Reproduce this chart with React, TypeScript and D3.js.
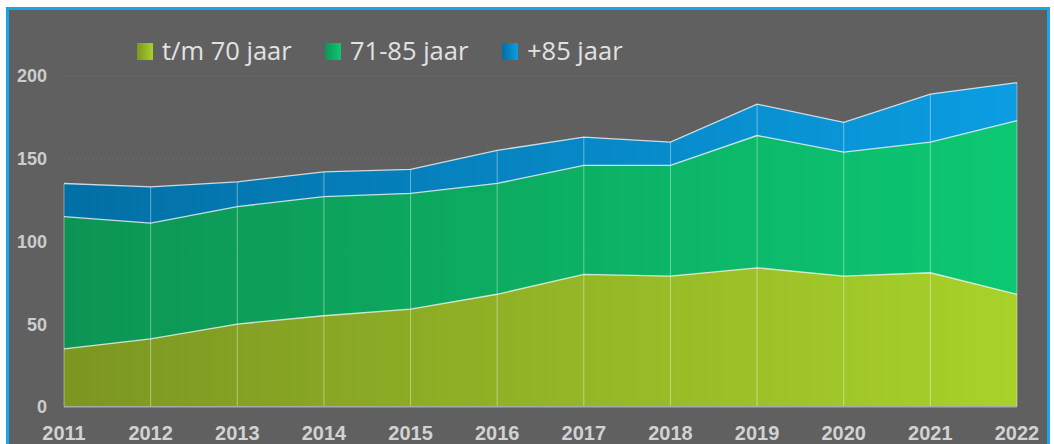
import React from "react";
import * as d3 from "d3";

const years = [2011, 2012, 2013, 2014, 2015, 2016, 2017, 2018, 2019, 2020, 2021, 2022];
const tot70 = [35, 41, 50, 55, 59, 68, 80, 79, 84, 79, 81, 68];
const van71tot85 = [80, 70, 71, 72, 70, 67, 66, 67, 80, 75, 79, 105];
const boven85 = [20, 22, 15, 15, 14.5, 20, 17, 14, 19, 18, 29, 23];
const seriesNames = ["t/m 70 jaar", "71-85 jaar", "+85 jaar"];
const yTicks = [0, 50, 100, 150, 200];

const W = 1054;
const H = 444;
const left = 64;
const right = 1017;
const top = 76;
const bottom = 406.7;

const grads = [
  { id: "g0", from: "#7c9622", to: "#a8d22a" },
  { id: "g1", from: "#0d9454", to: "#0cc873" },
  { id: "g2", from: "#026fa5", to: "#0b9de2" },
];

export default function App() {
  const x = d3.scalePoint<number>().domain(years).range([left, right]);
  const y = d3.scaleLinear().domain([0, 200]).range([bottom, top]);

  const rows = years.map((yr, i) => ({
    year: yr,
    a: tot70[i],
    b: van71tot85[i],
    c: boven85[i],
  }));
  const stack = d3.stack<any>().keys(["a", "b", "c"])(rows);
  const area = d3
    .area<any>()
    .x((d) => x(d.data.year) as number)
    .y0((d) => y(d[0]))
    .y1((d) => y(d[1]));
  const line = d3
    .line<any>()
    .x((d) => x(d.data.year) as number)
    .y((d) => y(d[1]));

  const legendX = [137, 325, 502];

  return (
    <svg
      width={W}
      height={H}
      style={{ position: "absolute", left: 0, top: 0, display: "block" }}
    >
      <defs>
        {grads.map((g) => (
          <linearGradient
            key={g.id}
            id={g.id}
            gradientUnits="userSpaceOnUse"
            x1={left}
            x2={right}
            y1={0}
            y2={0}
          >
            <stop offset="0" stopColor={g.from} />
            <stop offset="1" stopColor={g.to} />
          </linearGradient>
        ))}
        {grads.map((g) => (
          <linearGradient key={g.id + "s"} id={g.id + "s"} x1="0" x2="1" y1="0" y2="0">
            <stop offset="0" stopColor={g.from} />
            <stop offset="1" stopColor={g.to} />
          </linearGradient>
        ))}
      </defs>
      <rect x={0} y={0} width={W} height={H} fill="#ffffff" />
      <rect x={7.5} y={8.5} width={1041} height={460} fill="#606060" stroke="#19a5ea" strokeWidth={3} />

      {/* gridlines */}
      {yTicks.slice(1).map((t) => (
        <line
          key={t}
          x1={left}
          x2={right}
          y1={y(t)}
          y2={y(t)}
          stroke="#6f6f6f"
          strokeWidth={1}
          strokeDasharray="2,2"
        />
      ))}

      {/* areas */}
      {stack.map((s, i) => (
        <path key={i} d={area(s) as string} fill={`url(#g${i})`} />
      ))}
      {stack.map((s, i) => (
        <path
          key={"l" + i}
          d={line(s) as string}
          fill="none"
          stroke="rgba(255,255,255,0.75)"
          strokeWidth={1.3}
        />
      ))}
      {/* vertical lines */}
      {rows.map((r, i) => (
        <line
          key={r.year}
          x1={x(r.year)}
          x2={x(r.year)}
          y1={y(stack[2][i][1])}
          y2={bottom}
          stroke="rgba(255,255,255,0.4)"
          strokeWidth={1}
        />
      ))}
      <line x1={left} x2={right} y1={bottom} y2={bottom} stroke="#a9a9a9" strokeWidth={1.5} />

      {/* y labels */}
      {yTicks.map((t) => (
        <text
          key={t}
          x={47}
          y={y(t)}
          dy="0.36em"
          textAnchor="end"
          fontFamily="Liberation Sans, Arial, sans-serif"
          fontWeight="bold"
          fontSize={18}
          fill="#cdcdcd"
        >
          {t}
        </text>
      ))}
      {/* x labels */}
      {years.map((yr) => (
        <text
          key={yr}
          x={x(yr)}
          y={440}
          textAnchor="middle"
          fontFamily="Liberation Sans, Arial, sans-serif"
          fontWeight="bold"
          fontSize={20}
          fill="#d2d2d2"
        >
          {yr}
        </text>
      ))}

      {/* legend */}
      {seriesNames.map((n, i) => (
        <g key={n}>
          <rect x={legendX[i]} y={43} width={16} height={17} fill={`url(#g${i}s)`} />
          <text
            x={legendX[i] + 25}
            y={60}
            fontFamily="Open Sans, sans-serif"
            fontSize={25.5}
            fill="#e2e2e2"
          >
            {n}
          </text>
        </g>
      ))}
    </svg>
  );
}
